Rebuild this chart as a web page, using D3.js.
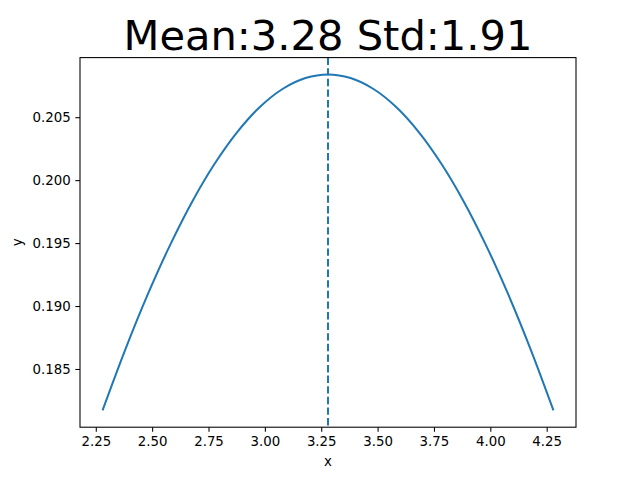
<!DOCTYPE html>
<html>
<head>
<meta charset="utf-8">
<script src="https://cdn.jsdelivr.net/npm/d3@7"></script>
<style>
  body { margin: 0; background: #fff; }
  svg text { font-family: "DejaVu Sans", sans-serif; fill: #000; }
</style>
</head>
<body>
<div id="chart"></div>
<script>
// Values
const xValues = [2.28, 2.38, 2.48, 2.58, 2.68, 2.78, 2.88, 2.98, 3.08, 3.18, 3.28,
                 3.38, 3.48, 3.58, 3.68, 3.78, 3.88, 3.98, 4.08, 4.18, 4.28];
const yValues = [0.18171, 0.18650, 0.19090, 0.19486, 0.19837, 0.20138, 0.20388, 0.20585, 0.20726, 0.20811, 0.20840,
                 0.20811, 0.20726, 0.20585, 0.20388, 0.20138, 0.19837, 0.19486, 0.19090, 0.18650, 0.18171];
const meanValue = 3.28;
const xTicks = [2.25, 2.5, 2.75, 3.0, 3.25, 3.5, 3.75, 4.0, 4.25];
const yTicks = [0.185, 0.190, 0.195, 0.200, 0.205];
const titleText = "Mean:3.28 Std:1.91";

const W = 640, H = 480;
const margin = { top: 57.6, right: 64, bottom: 52.8, left: 80 };
const width = W - margin.left - margin.right,
      height = H - margin.top - margin.bottom;

const svg = d3.select("#chart").append("svg")
  .attr("width", W).attr("height", H);

const g = svg.append("g")
  .attr("transform", `translate(${margin.left},${margin.top})`);

// Matplotlib-style 5% padding
const xExt = d3.extent(xValues), yExt = d3.extent(yValues);
const xPad = (xExt[1] - xExt[0]) * 0.05, yPad = (yExt[1] - yExt[0]) * 0.05;

const x = d3.scaleLinear().domain([xExt[0] - xPad, xExt[1] + xPad]).range([0, width]);
const y = d3.scaleLinear().domain([yExt[0] - yPad, yExt[1] + yPad]).range([height, 0]);

const points = xValues.map((d, i) => [d, yValues[i]]);

const line = d3.line()
  .x(d => x(d[0]))
  .y(d => y(d[1]))
  .curve(d3.curveCatmullRom);

g.append("path")
  .datum(points)
  .attr("fill", "none")
  .attr("stroke", "#1f77b4")
  .attr("stroke-width", 2)
  .attr("d", line);

// Mean line
g.append("line")
  .attr("x1", x(meanValue)).attr("x2", x(meanValue))
  .attr("y1", 0).attr("y2", height)
  .attr("stroke", "#1f77b4")
  .attr("stroke-width", 2)
  .attr("stroke-dasharray", "7.4,3.2");

// Axes
const xAxis = d3.axisBottom(x).tickValues(xTicks).tickFormat(d3.format(".2f"))
  .tickSize(4.67).tickPadding(4.67).tickSizeOuter(0);
const yAxis = d3.axisLeft(y).tickValues(yTicks).tickFormat(d3.format(".3f"))
  .tickSize(4.67).tickPadding(4.67).tickSizeOuter(0);

const xAxisG = g.append("g").attr("transform", `translate(0,${height})`).call(xAxis);
const yAxisG = g.append("g").call(yAxis);

[xAxisG, yAxisG].forEach(a => {
  a.select(".domain").remove();
  a.selectAll(".tick line").attr("stroke", "#000").attr("stroke-width", 1.07);
  a.selectAll(".tick text").style("font-size", "13.33px").style("font-family", "DejaVu Sans");
});

// Frame
g.append("rect")
  .attr("width", width).attr("height", height)
  .attr("fill", "none").attr("stroke", "#000").attr("stroke-width", 1.07);

// Labels
svg.append("text")
  .attr("x", margin.left + width / 2).attr("y", H - 14)
  .attr("text-anchor", "middle").style("font-size", "13.33px")
  .text("x");

svg.append("text")
  .attr("transform", `translate(22,${margin.top + height / 2}) rotate(-90)`)
  .attr("text-anchor", "middle").style("font-size", "13.33px")
  .text("y");

svg.append("text")
  .attr("x", margin.left + width / 2).attr("y", margin.top - 8)
  .attr("text-anchor", "middle").style("font-size", "41.6px")
  .text(titleText);
</script>
</body>
</html>
